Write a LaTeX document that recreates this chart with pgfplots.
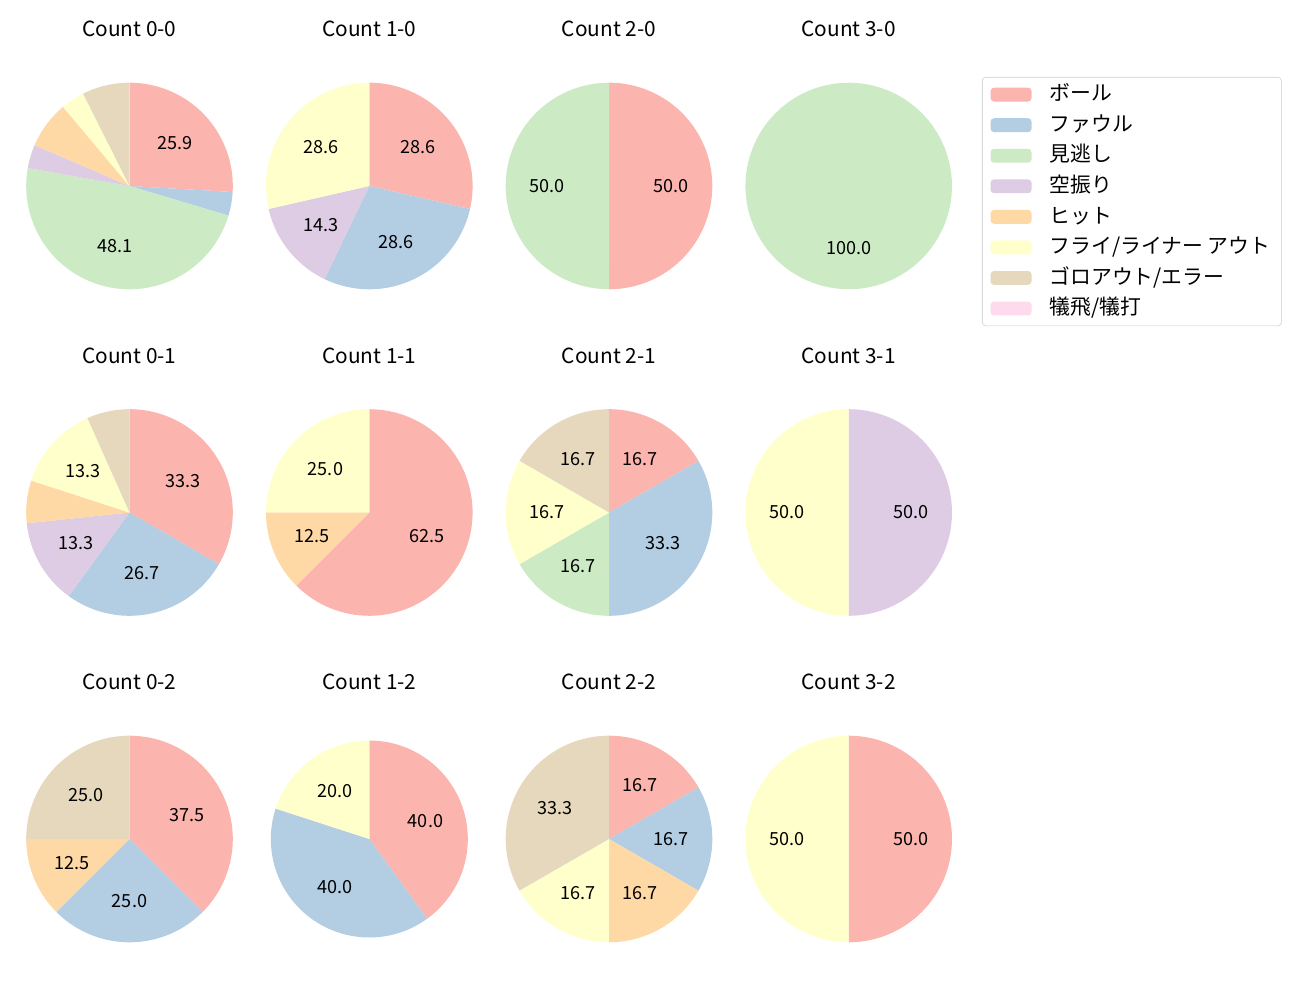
\documentclass[border=0pt]{standalone}
\usepackage{fontspec}
\setmainfont{Noto Sans CJK JP}
\usepackage{pgfplots}
\pgfplotsset{compat=1.18}
\definecolor{c1}{HTML}{FBB4AE}
\definecolor{c2}{HTML}{B3CDE3}
\definecolor{c3}{HTML}{CCEBC5}
\definecolor{c4}{HTML}{DECBE4}
\definecolor{c5}{HTML}{FED9A6}
\definecolor{c6}{HTML}{FFFFCC}
\definecolor{c7}{HTML}{E5D8BD}
\definecolor{c8}{HTML}{FDDAEC}
\gdef\cum{0}
\newcommand{\slice}[2]{%
  \pgfmathsetmacro\sa{90-3.6*\cum}%
  \pgfmathsetmacro\cumnew{\cum+#2}%
  \pgfmathsetmacro\ea{90-3.6*\cumnew}%
  \global\let\cum\cumnew
  \edef\tmp{\noexpand\addplot[fill=#1,draw=none,domain=\ea:\sa,samples=80] ({cos(x)},{sin(x)}) -- (axis cs:0,0) -- cycle;}\tmp
  \pgfmathsetmacro\ma{(\sa+\ea)/2}%
  \ifdim #2pt>10pt
    \edef\tmp{\noexpand\node[font=\noexpand\fontsize{13}{15}\noexpand\selectfont] at (axis cs:{0.6*cos(\ma)},{0.6*sin(\ma)}) {\noexpand\pgfmathprintnumber[assume math mode=true,fixed,fixed zerofill,precision=1]{#2}};}\tmp
  \fi
}
\pgfplotsset{pieaxis/.style={hide axis, scale only axis, width=#1, height=#1,
  xmin=-1,xmax=1,ymin=-1,ymax=1, anchor=center, clip=false}}
\newcommand{\pietitle}[1]{\node[font=\fontsize{15}{17}\selectfont,yshift=113pt] at (axis cs:0,0) {#1};}
\begin{document}
\begin{tikzpicture}
\path[use as bounding box] (0,0) rectangle (936pt,720pt);
% Row 1
\begin{axis}[pieaxis=148.75pt, at={(93.24pt,586.08pt)}]
\gdef\cum{0}
\slice{c1}{25.93}\slice{c2}{3.70}\slice{c3}{48.14}\slice{c4}{3.70}\slice{c5}{7.41}\slice{c6}{3.70}\slice{c7}{7.41}
\pietitle{Count 0-0}
\end{axis}
\begin{axis}[pieaxis=148.75pt, at={(265.9pt,586.08pt)}]
\gdef\cum{0}
\slice{c1}{28.57}\slice{c2}{28.57}\slice{c4}{14.29}\slice{c6}{28.57}
\pietitle{Count 1-0}
\end{axis}
\begin{axis}[pieaxis=148.75pt, at={(438.48pt,586.08pt)}]
\gdef\cum{0}
\slice{c1}{50}\slice{c3}{50}
\pietitle{Count 2-0}
\end{axis}
\begin{axis}[pieaxis=148.75pt, at={(611.06pt,586.08pt)},
  legend cell align=left,
  legend image code/.code={\fill[#1] (0pt,-5pt) rectangle (29.5pt,5pt);},
  legend style={at={(1.145,1.0276)}, anchor=north west, draw=black!20, rounded corners=2.5pt,
    font=\fontsize{15}{18}\selectfont, row sep=5.0pt, inner xsep=6pt, inner ysep=4pt,
    column sep=11pt, nodes={text height=12pt, text depth=3pt, inner ysep=1pt}}]
\addlegendimage{fill=c1,draw=none}
\addlegendimage{fill=c2,draw=none}
\addlegendimage{fill=c3,draw=none}
\addlegendimage{fill=c4,draw=none}
\addlegendimage{fill=c5,draw=none}
\addlegendimage{fill=c6,draw=none}
\addlegendimage{fill=c7,draw=none}
\addlegendimage{fill=c8,draw=none}
\legend{ボール,ファウル,見逃し,空振り,ヒット,フライ/ライナー アウト,ゴロアウト/エラー,犠飛/犠打}
\gdef\cum{0}
\slice{c3}{100}
\pietitle{Count 3-0}
\end{axis}
% Row 2
\begin{axis}[pieaxis=148.75pt, at={(93.24pt,351.0pt)}]
\gdef\cum{0}
\slice{c1}{33.33}\slice{c2}{26.67}\slice{c4}{13.33}\slice{c5}{6.67}\slice{c6}{13.33}\slice{c7}{6.67}
\pietitle{Count 0-1}
\end{axis}
\begin{axis}[pieaxis=148.75pt, at={(265.9pt,351.0pt)}]
\gdef\cum{0}
\slice{c1}{62.5}\slice{c5}{12.5}\slice{c6}{25}
\pietitle{Count 1-1}
\end{axis}
\begin{axis}[pieaxis=148.75pt, at={(438.48pt,351.0pt)}]
\gdef\cum{0}
\slice{c1}{16.67}\slice{c2}{33.33}\slice{c3}{16.67}\slice{c6}{16.67}\slice{c7}{16.66}
\pietitle{Count 2-1}
\end{axis}
\begin{axis}[pieaxis=148.75pt, at={(611.06pt,351.0pt)}]
\gdef\cum{0}
\slice{c4}{50}\slice{c6}{50}
\pietitle{Count 3-1}
\end{axis}
% Row 3
\begin{axis}[pieaxis=148.75pt, at={(93.24pt,115.92pt)}]
\gdef\cum{0}
\slice{c1}{37.5}\slice{c2}{25}\slice{c5}{12.5}\slice{c7}{25}
\pietitle{Count 0-2}
\end{axis}
\begin{axis}[pieaxis=141.84pt, at={(265.9pt,115.92pt)}]
\gdef\cum{0}
\slice{c1}{40}\slice{c2}{40}\slice{c6}{20}
\pietitle{Count 1-2}
\end{axis}
\begin{axis}[pieaxis=148.75pt, at={(438.48pt,115.92pt)}]
\gdef\cum{0}
\slice{c1}{16.67}\slice{c2}{16.67}\slice{c5}{16.67}\slice{c6}{16.67}\slice{c7}{33.32}
\pietitle{Count 2-2}
\end{axis}
\begin{axis}[pieaxis=148.75pt, at={(611.06pt,115.92pt)}]
\gdef\cum{0}
\slice{c1}{50}\slice{c6}{50}
\pietitle{Count 3-2}
\end{axis}
\end{tikzpicture}
\end{document}
